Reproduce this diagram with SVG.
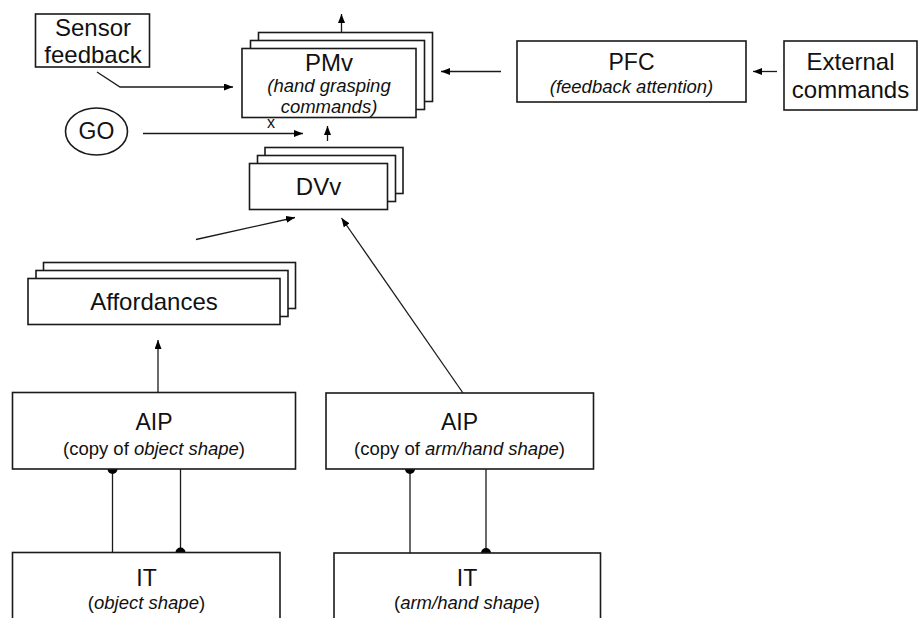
<svg xmlns="http://www.w3.org/2000/svg" width="920" height="618" viewBox="0 0 920 618">
  <style>
    .box { fill: #ffffff; stroke: #1a1a1a; stroke-width: 1.6; }
    .wire { fill: none; stroke: #1a1a1a; stroke-width: 1.3; }
    .dot { fill: #000000; }
    text { font-family: "Liberation Sans", Arial, sans-serif; fill: #111111; text-anchor: middle; }
    .big { font-size: 24px; }
    .title { font-size: 23px; }
    .sub { font-size: 18.5px; }
    .it { font-style: italic; }
  </style>
  <defs>
    <marker id="arrow" markerUnits="userSpaceOnUse" markerWidth="9" markerHeight="7" refX="9" refY="3.5" orient="auto">
      <path d="M0,0 L9,3.5 L0,7 z" fill="#000000"/>
    </marker>
  </defs>

  <rect width="920" height="618" fill="#ffffff"/>

  <!-- connectors -->
  <g id="connectors">
    <polyline class="wire" points="97,72 120,87 233,87" marker-end="url(#arrow)"/>
    <line class="wire" x1="341.5" y1="32.5" x2="341.5" y2="14" marker-end="url(#arrow)"/>
    <line class="wire" x1="501" y1="71.5" x2="441" y2="71.5" marker-end="url(#arrow)"/>
    <line class="wire" x1="777" y1="71.5" x2="753" y2="71.5" marker-end="url(#arrow)"/>
    <line class="wire" x1="143" y1="133.5" x2="303" y2="133.5" marker-end="url(#arrow)"/>
    <line class="wire" x1="327.5" y1="141" x2="327.5" y2="126" marker-end="url(#arrow)"/>
    <line class="wire" x1="196" y1="239.5" x2="295" y2="217.5" marker-end="url(#arrow)"/>
    <line class="wire" x1="463" y1="393" x2="341.5" y2="218" marker-end="url(#arrow)"/>
    <line class="wire" x1="158" y1="392.5" x2="158" y2="340" marker-end="url(#arrow)"/>
    <!-- AIP / IT links with round contacts -->
    <line class="wire" x1="112.5" y1="469" x2="112.5" y2="552.5"/>
    <path class="dot" d="M107.5,469 A5,5 0 0 0 117.5,469 z"/>
    <line class="wire" x1="180.5" y1="469" x2="180.5" y2="552.5"/>
    <path class="dot" d="M175.5,552.5 A5,5 0 0 1 185.5,552.5 z"/>
    <line class="wire" x1="410" y1="469" x2="410" y2="553"/>
    <path class="dot" d="M405,469 A5,5 0 0 0 415,469 z"/>
    <line class="wire" x1="486" y1="469" x2="486" y2="553"/>
    <path class="dot" d="M481,553 A5,5 0 0 1 491,553 z"/>
    <text x="271" y="127.5" style="font-size:16px">x</text>
  </g>

  <g id="sensor-feedback">
    <rect class="box" x="35.5" y="14" width="114" height="53"/>
    <text class="big" x="93" y="35.5">Sensor</text>
    <text class="big" x="93" y="62.5">feedback</text>
  </g>

  <g id="pmv">
    <rect class="box" x="258.5" y="32.5" width="174" height="69"/>
    <rect class="box" x="250.5" y="40.5" width="174" height="69"/>
    <rect class="box" x="242" y="48.5" width="174" height="69"/>
    <text class="big" x="329" y="70.5">PMv</text>
    <text class="sub it" x="329" y="91.5">(hand grasping</text>
    <text class="sub it" x="329" y="113">commands)</text>
  </g>

  <g id="pfc">
    <rect class="box" x="517" y="41" width="229" height="61"/>
    <text class="title" x="631.5" y="69.5">PFC</text>
    <text class="sub it" x="631.5" y="93">(feedback attention)</text>
  </g>

  <g id="external-commands">
    <rect class="box" x="784" y="41" width="133" height="69"/>
    <text class="big" x="850.5" y="69.5">External</text>
    <text class="big" x="850.5" y="98">commands</text>
  </g>

  <g id="go">
    <ellipse class="box" cx="96.5" cy="131.5" rx="31" ry="23.5"/>
    <text class="title" x="96.5" y="139">GO</text>
  </g>

  <g id="dvv">
    <rect class="box" x="265" y="147.5" width="138" height="46"/>
    <rect class="box" x="257.5" y="155.5" width="138" height="46"/>
    <rect class="box" x="249.5" y="163.5" width="138" height="46"/>
    <text class="big" x="318.5" y="195">DVv</text>
  </g>

  <g id="affordances">
    <rect class="box" x="43.5" y="262.5" width="252" height="46"/>
    <rect class="box" x="36" y="270.5" width="252" height="46"/>
    <rect class="box" x="28" y="278.5" width="252" height="46"/>
    <text class="big" x="154" y="309.5">Affordances</text>
  </g>

  <g id="aip-object">
    <rect class="box" x="12.5" y="392.5" width="283" height="76.5"/>
    <text class="title" x="154" y="430">AIP</text>
    <text class="sub" x="154" y="455">(copy of <tspan class="it">object shape</tspan>)</text>
  </g>

  <g id="aip-arm">
    <rect class="box" x="326" y="393" width="267.5" height="76"/>
    <text class="title" x="459.5" y="430">AIP</text>
    <text class="sub" x="459.5" y="455">(copy of <tspan class="it">arm/hand shape</tspan>)</text>
  </g>

  <g id="it-object">
    <rect class="box" x="12.5" y="552.5" width="267.5" height="80"/>
    <text class="title" x="146.5" y="586">IT</text>
    <text class="sub" x="146.5" y="608.5">(<tspan class="it">object shape</tspan>)</text>
  </g>

  <g id="it-arm">
    <rect class="box" x="334" y="553" width="266.5" height="80"/>
    <text class="title" x="467" y="586">IT</text>
    <text class="sub" x="467" y="608.5">(<tspan class="it">arm/hand shape</tspan>)</text>
  </g>
</svg>
